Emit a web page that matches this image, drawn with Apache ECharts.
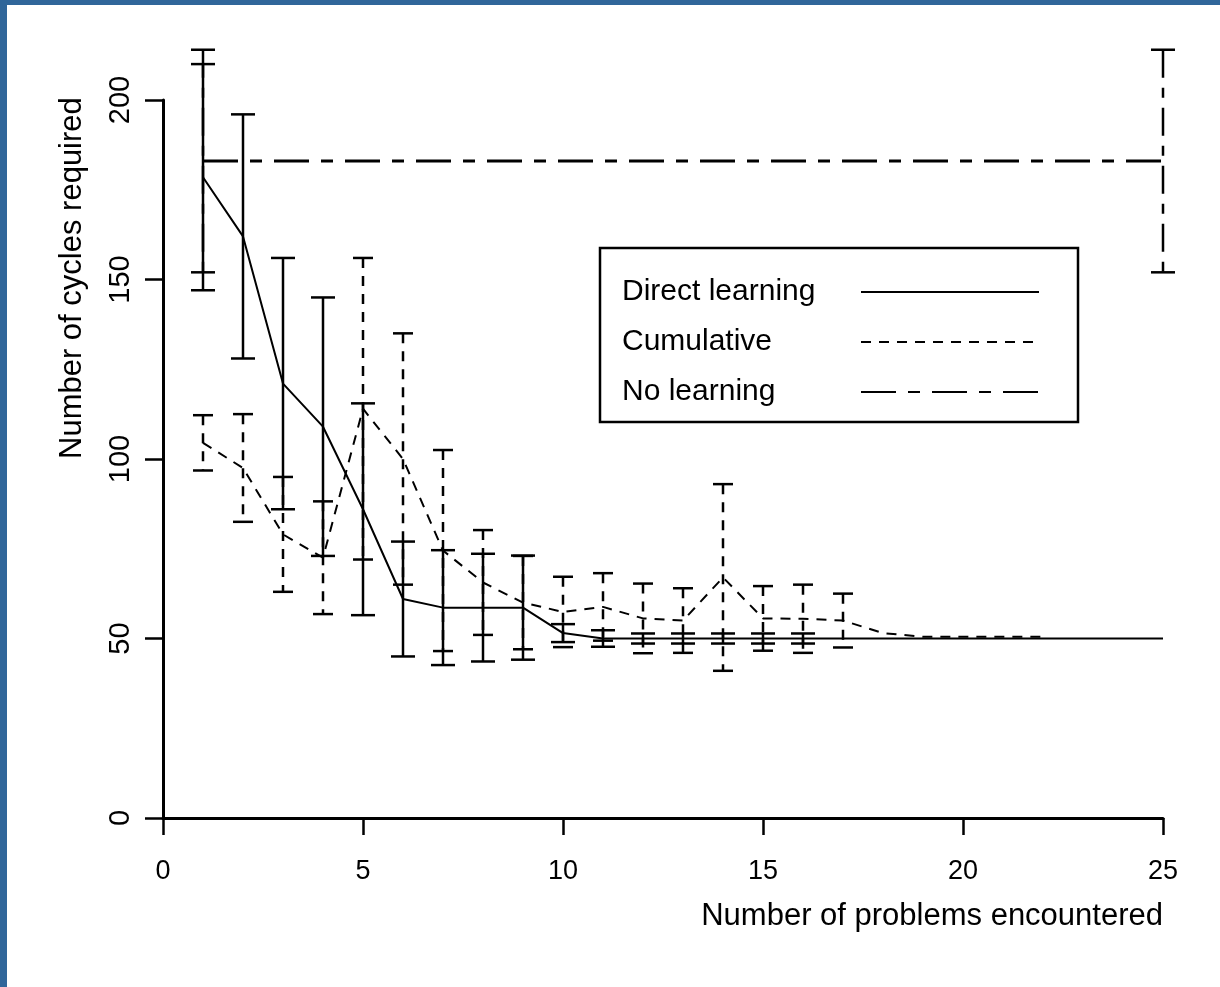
<!DOCTYPE html>
<html>
<head>
<meta charset="utf-8">
<script src="https://cdn.jsdelivr.net/npm/echarts@6/dist/echarts.min.js"></script>
<style>
    html, body { margin: 0; padding: 0; background: #fff; }
    #chart { position: absolute; left: 0; top: 0; width: 1220px; height: 987px; }
    .edge { position: absolute; background: #30669a; }
</style>
</head>
<body>
<div id="chart"></div>
<div class="edge" style="left:0;top:0;width:1220px;height:5px;"></div>
<div class="edge" style="left:0;top:0;width:7px;height:987px;"></div>
<script>
    // values
    let directX = [1, 2, 3, 4, 5, 6, 7, 8, 9, 10, 11, 12, 13, 14, 15, 16, 17, 18, 19, 20, 21, 22, 23, 24, 25];
    let directY = [178.5, 162, 121, 109, 86, 61, 58.6, 58.6, 58.6, 51.5, 50, 50, 50, 50, 50, 50, 50, 50, 50, 50, 50, 50, 50, 50, 50];
    let directErr = [31.5, 34, 35, 36, 29.5, 16, 16, 15, 14.5, 2.5, 2.3, 1.4, 1.4, 1.4, 1.4, 1.4];

    let cumX = [1, 2, 3, 4, 5, 6, 7, 8, 9, 10, 11, 12, 13, 14, 15, 16, 17, 18, 19, 20, 21, 22];
    let cumY = [104.5, 97.5, 79, 72.5, 114, 100, 74.5, 65.6, 60, 57.4, 58.8, 55.6, 55, 67, 55.6, 55.5, 55, 51.5, 50.5, 50.5, 50.5, 50.5];
    let cumErr = [7.7, 15, 16, 15.7, 42, 35, 28, 14.6, 13, 9.8, 9.4, 9.7, 9, 26, 9, 9.5, 7.5];

    let noX = [1, 25];
    let noY = [183, 183];
    let noErr = [31, 31];

    let xTicks = [0, 5, 10, 15, 20, 25];
    let yTicks = [0, 50, 100, 150, 200];

    let seriesNames = ['Direct learning', 'Cumulative', 'No learning'];

    let dashCum = [10, 8];
    let dashNo = [35, 12, 12, 12];

    function pairs(xs, ys) {
        return xs.map(function (x, i) { return [x, ys[i]]; });
    }
    function bars(xs, ys, errs) {
        let out = [];
        errs.forEach(function (e, i) {
            out.push([xs[i], ys[i] - e, ys[i] + e]);
        });
        return out;
    }
    function errorBar(capWidth, dash) {
        return function (params, api) {
            let lo = api.coord([api.value(0), api.value(1)]);
            let hi = api.coord([api.value(0), api.value(2)]);
            let h = capWidth / 2;
            let style = { stroke: '#000', lineWidth: 2.5, lineDash: dash, fill: null };
            return {
                type: 'group',
                children: [
                    { type: 'line', shape: { x1: hi[0], y1: hi[1], x2: lo[0], y2: lo[1] }, style: style },
                    { type: 'line', shape: { x1: hi[0] - h, y1: hi[1], x2: hi[0] + h, y2: hi[1] }, style: { stroke: '#000', lineWidth: 2.5 } },
                    { type: 'line', shape: { x1: lo[0] - h, y1: lo[1], x2: lo[0] + h, y2: lo[1] }, style: { stroke: '#000', lineWidth: 2.5 } }
                ]
            };
        };
    }

    let chart = echarts.init(document.getElementById('chart'));
    let font = 'Liberation Sans, Arial, sans-serif';

    let option = {
        animation: false,
        backgroundColor: '#fff',
        textStyle: { fontFamily: font, color: '#000' },
        grid: { left: 163, top: 100, width: 1000, height: 718 },
        legend: {
            data: seriesNames,
            orient: 'vertical',
            left: 600,
            top: 248,
            align: 'right',
            borderColor: '#000',
            borderWidth: 2.5,
            padding: [26, 38, 12, 22],
            itemGap: 14,
            itemWidth: 178,
            itemHeight: 14,
            selectedMode: false,
            itemStyle: { color: 'rgba(0,0,0,0)', borderWidth: 0, opacity: 0 },
            formatter: '{t|{name}}',
            textStyle: {
                fontFamily: font, fontSize: 30, color: '#000', lineHeight: 36,
                rich: {
                    t: { width: 234, align: 'left', fontFamily: font, fontSize: 30, color: '#000', lineHeight: 36 }
                }
            }
        },
        xAxis: {
            type: 'value',
            min: xTicks[0],
            max: xTicks[xTicks.length - 1],
            interval: 5,
            name: 'Number of problems encountered',
            nameLocation: 'end',
            nameGap: 0,
            nameTextStyle: { fontFamily: font, fontSize: 31, color: '#000', align: 'right', verticalAlign: 'top', padding: [83, 0, 0, 0] },
            axisLine: { lineStyle: { color: '#000', width: 3 } },
            axisTick: { length: 17, lineStyle: { color: '#000', width: 2.5 } },
            axisLabel: { fontFamily: font, fontSize: 27, color: '#000', margin: 40 },
            splitLine: { show: false }
        },
        yAxis: {
            type: 'value',
            min: yTicks[0],
            max: yTicks[yTicks.length - 1],
            interval: 50,
            name: 'Number of cycles required',
            nameLocation: 'middle',
            nameRotate: 90,
            nameGap: 75,
            nameTextStyle: { fontFamily: font, fontSize: 31, color: '#000', align: 'left' },
            axisLine: { show: true, lineStyle: { color: '#000', width: 3 } },
            axisTick: { show: true, length: 18, lineStyle: { color: '#000', width: 2.5 } },
            axisLabel: { fontFamily: font, fontSize: 29, color: '#000', rotate: 90, margin: 28 },
            splitLine: { show: false }
        },
        series: [
            {
                name: seriesNames[0],
                type: 'line',
                data: pairs(directX, directY),
                symbol: 'none',
                lineStyle: { color: '#000', width: 2 },
                itemStyle: { color: '#000' }
            },
            {
                name: seriesNames[1],
                type: 'line',
                data: pairs(cumX, cumY),
                symbol: 'none',
                lineStyle: { color: '#000', width: 2, type: dashCum },
                itemStyle: { color: '#000' }
            },
            {
                name: seriesNames[2],
                type: 'line',
                data: pairs(noX, noY),
                symbol: 'none',
                lineStyle: { color: '#000', width: 3, type: dashNo },
                itemStyle: { color: '#000' }
            },
            {
                type: 'custom',
                renderItem: errorBar(24, null),
                data: bars(directX, directY, directErr),
                z: 3
            },
            {
                type: 'custom',
                renderItem: errorBar(20, dashCum),
                data: bars(cumX, cumY, cumErr),
                z: 3
            },
            {
                type: 'custom',
                renderItem: errorBar(24, [28, 10, 10, 10]),
                data: bars(noX, noY, noErr),
                z: 3
            }
        ]
    };

    chart.setOption(option);
    window.onresize = () => {
        chart.resize();
    };
</script>
</body>
</html>
